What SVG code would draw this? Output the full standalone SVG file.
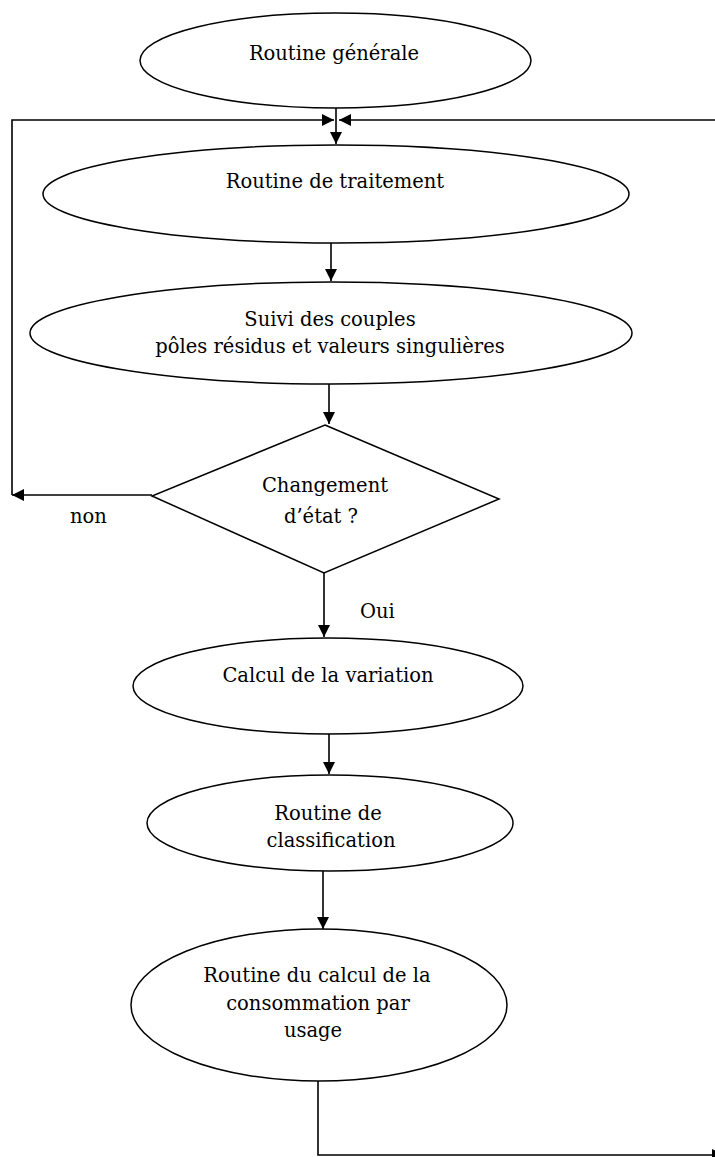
<svg xmlns="http://www.w3.org/2000/svg" width="715" height="1157" viewBox="0 0 715 1157">
<style>
.shape{fill:#fff;stroke:#000;stroke-width:1.5}
.lbl{font-family:"DejaVu Serif","Liberation Serif",serif;font-size:19.5px;fill:#000;text-anchor:middle}
.lbl-start{font-family:"DejaVu Serif","Liberation Serif",serif;font-size:19.5px;fill:#000}
.conn{fill:none;stroke:#000;stroke-width:1.6}
</style>
<defs>
<marker id="arr" markerUnits="userSpaceOnUse" markerWidth="13" markerHeight="12" refX="12" refY="6" orient="auto">
<path d="M0,0 L12,6 L0,12 z" fill="#000"/>
</marker>
</defs>
<rect width="715" height="1157" fill="#fff"/>
<g id="connectors">
<line class="conn" x1="336" y1="108" x2="336" y2="144" marker-end="url(#arr)"/>
<polyline class="conn" points="12,495 12,120 334,120" marker-end="url(#arr)"/>
<line class="conn" x1="715" y1="120" x2="339" y2="120" marker-end="url(#arr)"/>
<line class="conn" x1="331" y1="243" x2="331" y2="281" marker-end="url(#arr)"/>
<line class="conn" x1="329" y1="384" x2="329" y2="424" marker-end="url(#arr)"/>
<line class="conn" x1="152" y1="495" x2="12" y2="495" marker-end="url(#arr)"/>
<line class="conn" x1="324" y1="573" x2="324" y2="637" marker-end="url(#arr)"/>
<line class="conn" x1="329" y1="734" x2="329" y2="774" marker-end="url(#arr)"/>
<line class="conn" x1="323" y1="871" x2="323" y2="929" marker-end="url(#arr)"/>
<polyline class="conn" points="318,1081 318,1155 724,1155" marker-end="url(#arr)"/>
<text class="lbl-start" x="70" y="523">non</text>
<text class="lbl-start" x="360" y="618">Oui</text>
</g>
<g id="n1">
<ellipse class="shape" cx="335.5" cy="60.5" rx="195.5" ry="47.5"/>
<text class="lbl" x="334" y="60">Routine générale</text>
</g>
<g id="n2">
<ellipse class="shape" cx="336" cy="194" rx="293" ry="49"/>
<text class="lbl" x="335" y="188">Routine de traitement</text>
</g>
<g id="n3">
<ellipse class="shape" cx="331" cy="333" rx="301" ry="51"/>
<text class="lbl" x="330" y="326">Suivi des couples</text>
<text class="lbl" x="330" y="353">pôles résidus et valeurs singulières</text>
</g>
<g id="n4">
<polygon class="shape" points="325,425 499,499 324,573 152,496"/>
<text class="lbl" x="325" y="492">Changement</text>
<text class="lbl" x="321" y="523">d’état ?</text>
</g>
<g id="n5">
<ellipse class="shape" cx="328" cy="686" rx="195" ry="48"/>
<text class="lbl" x="328" y="682">Calcul de la variation</text>
</g>
<g id="n6">
<ellipse class="shape" cx="330" cy="823" rx="183" ry="48"/>
<text class="lbl" x="328" y="820">Routine de</text>
<text class="lbl" x="331" y="847">classification</text>
</g>
<g id="n7">
<ellipse class="shape" cx="319" cy="1005" rx="188" ry="76"/>
<text class="lbl" x="317" y="982">Routine du calcul de la</text>
<text class="lbl" x="318" y="1010">consommation par</text>
<text class="lbl" x="313" y="1037">usage</text>
</g>
</svg>
